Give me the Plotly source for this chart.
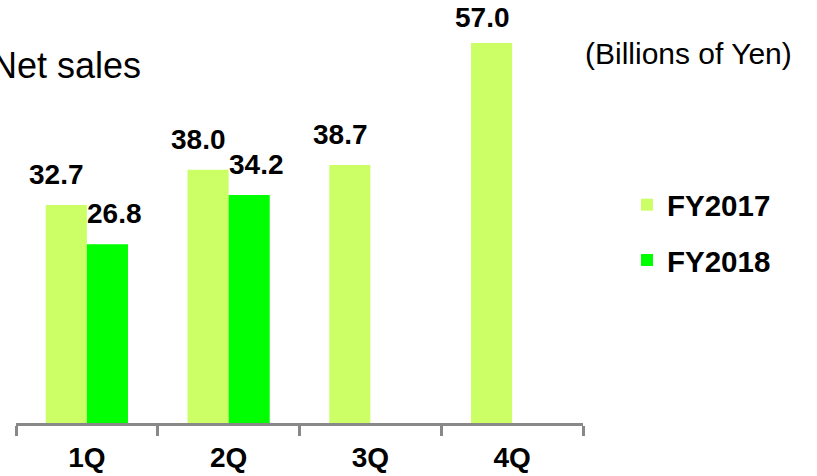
import plotly.graph_objects as go

quarters = ["1Q", "2Q", "3Q", "4Q"]
fy2017 = [32.7, 38.0, 38.7, 57.0]
fy2018 = [26.8, 34.2, None, None]
series_names = ["FY2017", "FY2018"]
title_text = "Net sales"
unit_text = "(Billions of Yen)"

C17 = "#CCFF66"
C18 = "#00FF00"
FONT = "Arial, Liberation Sans, sans-serif"

W, H = 817, 476
ML, MR, MT, MB = 16, 234, 0, 53
plot_h = H - MT - MB
px_per_unit = (423 - 43) / 57.0
ymax = plot_h / px_per_unit

fig = go.Figure()
fig.add_trace(go.Bar(x=quarters, y=fy2017, name=series_names[0], marker=dict(color=C17, line=dict(width=0)),
                     legendgroup="a"))
fig.add_trace(go.Bar(x=quarters, y=fy2018, name=series_names[1], marker=dict(color=C18, line=dict(width=0)),
                     legendgroup="b"))

annotations = []
for vals, dx in ((fy2017, -30), (fy2018, 28)):
    for q, v in zip(quarters, vals):
        if v is None:
            continue
        bar_top_px = plot_h - v * px_per_unit
        ys = min(13, bar_top_px - 35)
        annotations.append(dict(x=q, y=v, xref="x", yref="y", text=f"{v:.1f}", showarrow=False,
                                xanchor="center", yanchor="bottom", xshift=dx, yshift=ys,
                                font=dict(family=FONT, size=28, color="black", weight="bold")))

annotations.append(dict(x=0, y=(plot_h - 65) / plot_h, xref="paper", yref="paper", text=title_text,
                        showarrow=False, xanchor="left", yanchor="middle", xshift=-27,
                        font=dict(family=FONT, size=36, color="black")))
annotations.append(dict(x=(583 - ML) / (W - ML - MR), y=(plot_h - 54) / plot_h, xref="paper", yref="paper",
                        text=unit_text, showarrow=False, xanchor="left", yanchor="middle",
                        font=dict(family=FONT, size=30, color="black")))

fig.update_layout(
    width=W, height=H,
    margin=dict(l=ML, r=MR, t=MT, b=MB),
    paper_bgcolor="white", plot_bgcolor="white",
    barmode="group", bargap=0.42, bargroupgap=0,
    showlegend=True,
    legend=dict(x=(627 - ML) / (W - ML - MR), y=(plot_h - 179) / plot_h, xanchor="left", yanchor="top",
                font=dict(family=FONT, size=29.5, color="black", weight="bold"),
                tracegroupgap=14, traceorder="grouped", bgcolor="rgba(0,0,0,0)"),
    annotations=annotations,
    xaxis=dict(showline=True, linecolor="#888888", linewidth=3, ticks="outside", tickson="boundaries",
               ticklen=10, tickwidth=3, tickcolor="#888888", showgrid=False, ticklabelstandoff=7,
               tickfont=dict(family=FONT, size=28, color="black", weight="bold")),
    yaxis=dict(range=[0, ymax], visible=False, showgrid=False),
)

fig.write_html("out.html", config={"displayModeBar": False},
               post_script="document.body.style.margin='0';document.body.style.overflow='hidden';")
